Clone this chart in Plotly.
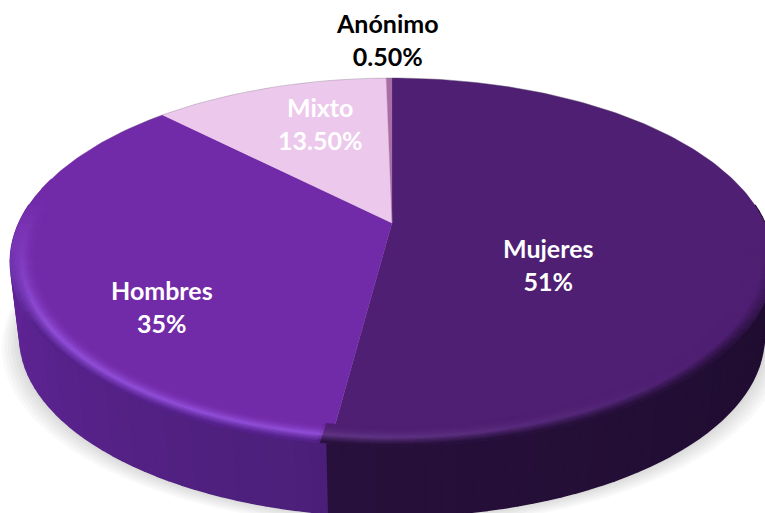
import numpy as np
import plotly.graph_objects as go

# slices as drawn in the picture (clockwise from 12 o'clock)
categories = ["Mujeres", "Hombres", "Mixto", "Anónimo"]
slice_shares = [52.1, 35.4, 12.2, 0.3]
value_labels = ["51%", "35%", "13.50%", "0.50%"]

face_colors = ["#4E1F72", "#722BA8", "#ECC8EC", "#A96FA5"]
wall_colors = ["#27103B", "#54218A", "#ECC8EC", "#A96FA5"]
glow_colors = ["#6A3F90", "#9350DC", "#ECC8EC", "#A96FA5"]
text_colors = ["white", "white", "white", "black"]
label_x = [548, 162, 320, 387]
label_y = [264, 306, 123, 39]

# projection of the tilted disc onto the page
CX, CY = 392, 223
R, S, K = 373, 175.7, 0.212
DEPTH, SHRINK = 76, 0.975


def top(theta, r=1.0):
    u, v = r * np.sin(np.radians(theta)), r * np.cos(np.radians(theta))
    d = 1 + K * v
    return CX + R * u / d, CY - S * v / d


def bottom(theta):
    x, y = top(theta)
    return CX + (x - CX) * SHRINK, CY + (y - CY) * SHRINK + DEPTH


def rgb(c):
    return [int(c[i:i + 2], 16) for i in (1, 3, 5)]


def mix(a, b, t):
    t = float(np.clip(t, 0, 1))
    ca, cb = rgb(a), rgb(b)
    return "#%02X%02X%02X" % tuple(round(ca[i] + (cb[i] - ca[i]) * t) for i in range(3))


def poly(fig, xs, ys, color, edge=0.6):
    fig.add_trace(go.Scatter(x=xs, y=ys, mode="lines", fill="toself", fillcolor=color,
                             line=dict(color=color, width=edge), hoverinfo="skip", showlegend=False))


fig = go.Figure()

edges = np.cumsum([0] + slice_shares) * 3.6
circle = np.arange(0, 361, 2.0)

# soft shadow under the disc
for grow in [18, 15, 12, 9, 6, 3]:
    bx, by = bottom(circle)
    sx = CX + (bx - CX) * (1 + grow / 370)
    sy = by + grow * 0.6
    fig.add_trace(go.Scatter(x=sx, y=sy, mode="lines", fill="toself", fillcolor="rgba(0,0,0,0.025)",
                             line=dict(width=0), hoverinfo="skip", showlegend=False))

# side wall, cut in thin strips so it can shade along the edge
step = 2.0
for a in np.arange(84, 276, step):
    mid = a + step / 2
    idx = int(np.searchsorted(edges, mid) - 1)
    if idx == 0:
        col = mix("#1E0C2E", wall_colors[0], (mid - 100) / 86)
    else:
        col = mix("#4A1F78", "#602496", (mid - 186) / 70)
    th = np.array([a, a + step])
    tx, ty = top(th)
    bx, by = bottom(th)
    poly(fig, list(tx) + list(bx[::-1]), list(ty) + list(by[::-1]), col, edge=1.6)

# top face
for i, name in enumerate(categories):
    th = np.arange(edges[i], edges[i + 1] + 0.01, 1.0)
    th = np.append(th, edges[i + 1])
    ex, ey = top(th)
    poly(fig, [CX] + list(ex) + [CX], [CY] + list(ey) + [CY], face_colors[i], edge=0.3)

# bevel on the front edge
radii = np.linspace(0.93, 1.0, 15)
step = 3.0
for j in range(len(radii) - 1):
    t = j / (len(radii) - 2)
    for a in np.arange(96, 285, step):
        mid = a + step / 2
        idx = int(np.searchsorted(edges, mid) - 1)
        if idx == 0:
            glow = np.clip((mid - 135) / 50, 0, 1) * 0.7
            dark = np.clip((mid - 98) / 30, 0, 1)
        else:
            glow = np.clip((278 - mid) / 40, 0, 1)
            dark = np.clip((268 - mid) / 30, 0, 1)
        face = face_colors[idx]
        peak = mix(face, glow_colors[idx], glow)
        if t < 0.6:
            col = mix(face, peak, (t / 0.6) ** 2)
        else:
            col = mix(peak, wall_colors[idx], dark * ((t - 0.6) / 0.4) ** 0.8)
        th = np.array([a - 0.2, a + step + 0.2])
        x0, y0 = top(th, radii[j])
        x1, y1 = top(th, radii[j + 1])
        poly(fig, list(x0) + list(x1[::-1]), list(y0) + list(y1[::-1]), col, edge=0.8)

# faint edge along the back of the disc
th = np.arange(300, 420, 2.0)
ex, ey = top(th)
fig.add_trace(go.Scatter(x=ex, y=ey, mode="lines", line=dict(color="rgba(90,90,90,0.35)", width=0.7),
                         hoverinfo="skip", showlegend=False))

for i, name in enumerate(categories):
    fig.add_annotation(x=label_x[i], y=label_y[i], text=f"<b>{name}<br>{value_labels[i]}</b>",
                       showarrow=False, align="center",
                       font=dict(family="Lato", size=25, color=text_colors[i]))

fig.update_layout(width=765, height=513, margin=dict(l=0, r=0, t=0, b=0),
                  paper_bgcolor="white", plot_bgcolor="white", showlegend=False,
                  xaxis=dict(range=[0, 765], visible=False, fixedrange=True),
                  yaxis=dict(range=[513, 0], visible=False, fixedrange=True))

fig.write_html("out.html", config={"displayModeBar": False},
               post_script="document.body.style.margin='0';document.body.style.overflow='hidden';")
